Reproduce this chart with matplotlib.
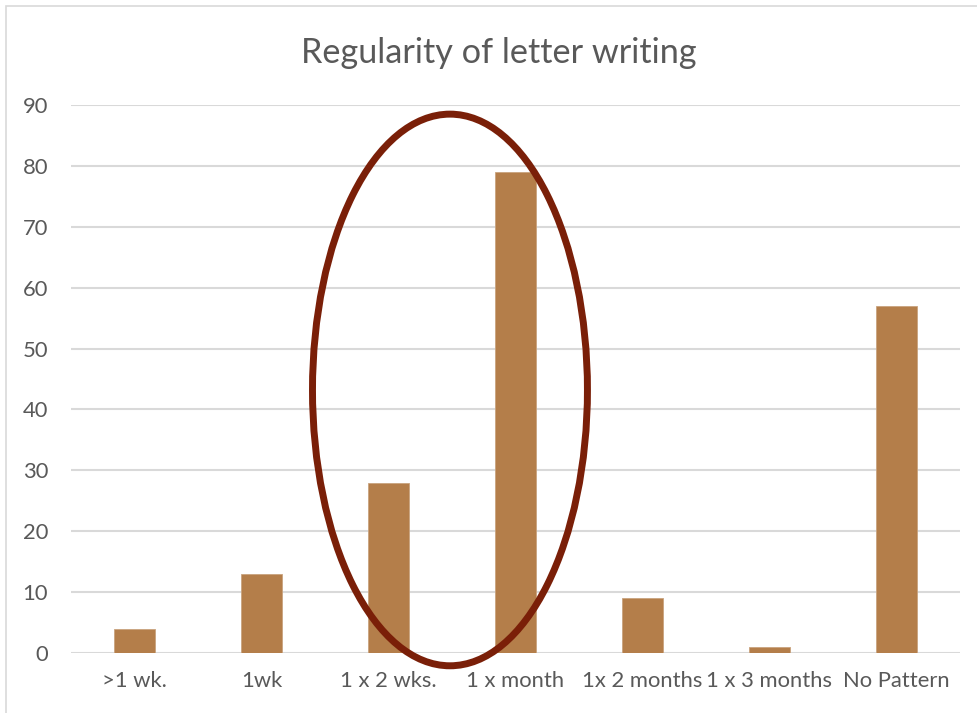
import matplotlib
matplotlib.use("Agg")
import matplotlib.pyplot as plt
from matplotlib.patches import Ellipse, Rectangle

categories = [">1 wk.", "1wk", "1 x 2 wks.", "1 x month", "1x 2 months", "1 x 3 months", "No Pattern"]
values = [4, 13, 28, 79, 9, 1, 57]
yticks = [0, 10, 20, 30, 40, 50, 60, 70, 80, 90]

plt.rcParams["font.family"] = ["Lato", "DejaVu Sans"]
TEXT = "#595959"
GRID = "#D9D9D9"

fig = plt.figure(figsize=(9.78, 7.13), dpi=100)
ax = fig.add_axes([71 / 978, 1 - 653 / 713, (960 - 71) / 978, (653 - 105) / 713])

x = list(range(len(categories)))
ax.bar(x, values, width=0.315, color="#B47E4A", edgecolor="#C9A37E", linewidth=0.6, zorder=3)

ax.set_xlim(-0.5, len(categories) - 0.5)
ax.set_ylim(0, 90)
ax.set_yticks(yticks)
ax.set_xticks(x)
ax.set_xticklabels(categories)
ax.tick_params(axis="both", length=0, labelsize=15.8, colors=TEXT)
ax.tick_params(axis="x", pad=13)
ax.tick_params(axis="y", pad=16.5)
ax.grid(axis="y", color=GRID, linewidth=1.5, zorder=0)
for s in ax.spines.values():
    s.set_visible(False)

# title centred on the whole chart area rather than the plot area
ax.set_title("Regularity of letter writing", fontsize=24.7, color=TEXT, pad=30,
             x=(498.5 - 71) / (960 - 71))

# highlight around the fortnightly and monthly columns
ell = Ellipse((2.484, 43.2), width=2.165, height=90.6, fill=False,
              edgecolor="#7A1F08", linewidth=5, zorder=4, clip_on=False)
ax.add_patch(ell)

# chart frame
fig.add_artist(Rectangle((6 / 978, -0.05), 1.0, 1 - 6 / 713 + 0.05,
                         transform=fig.transFigure, fill=False,
                         edgecolor=GRID, linewidth=1.2))

fig.savefig("out.png", dpi=100, facecolor="white")
